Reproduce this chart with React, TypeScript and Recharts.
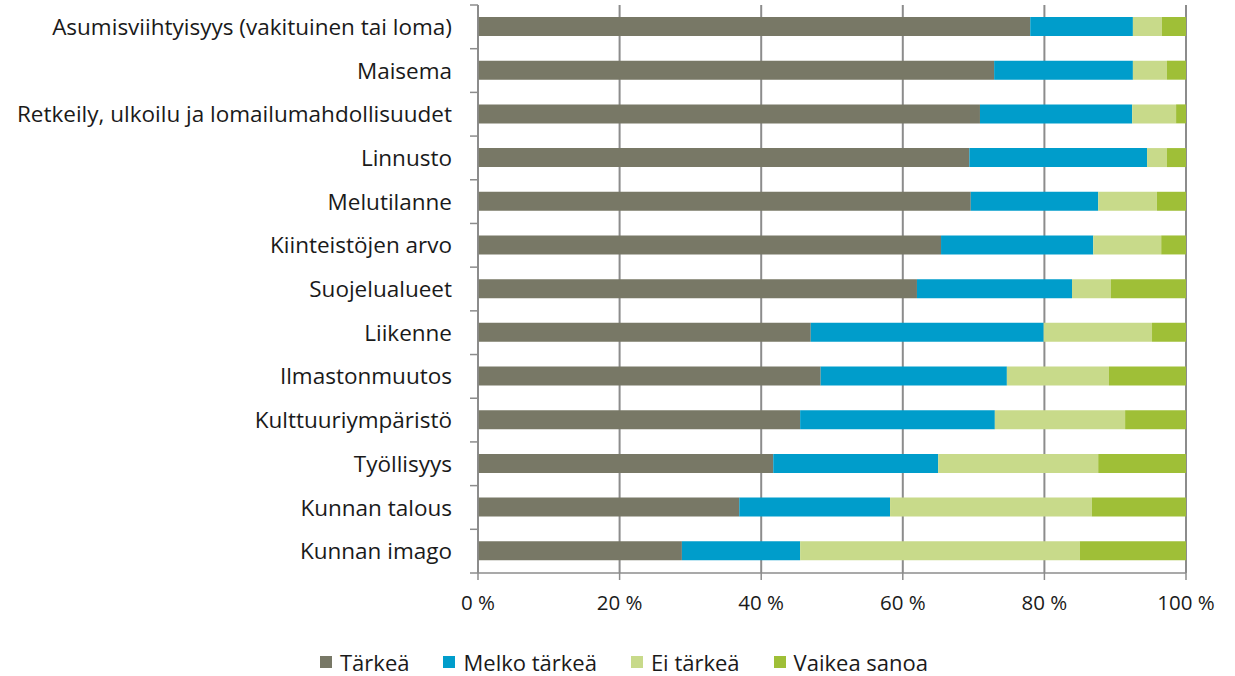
import React from "react";
import { BarChart, Bar, XAxis, YAxis, CartesianGrid, Legend } from "recharts";

const categories = [
  "Asumisviihtyisyys (vakituinen tai loma)",
  "Maisema",
  "Retkeily, ulkoilu ja lomailumahdollisuudet",
  "Linnusto",
  "Melutilanne",
  "Kiinteistöjen arvo",
  "Suojelualueet",
  "Liikenne",
  "Ilmastonmuutos",
  "Kulttuuriympäristö",
  "Työllisyys",
  "Kunnan talous",
  "Kunnan imago",
];

const tarkea = [78.0, 72.9, 70.9, 69.4, 69.6, 65.4, 62.0, 47.0, 48.4, 45.5, 41.7, 36.9, 28.8];
const melkoTarkea = [14.5, 19.6, 21.5, 25.1, 18.0, 21.5, 21.9, 32.9, 26.3, 27.5, 23.3, 21.3, 16.7];
const eiTarkea = [4.1, 4.8, 6.2, 2.8, 8.3, 9.6, 5.5, 15.3, 14.4, 18.4, 22.6, 28.5, 39.5];
const vaikeaSanoa = [3.4, 2.7, 1.4, 2.7, 4.1, 3.5, 10.6, 4.8, 10.9, 8.6, 12.4, 13.3, 15.0];

const xTicks = [0, 20, 40, 60, 80, 100];

const seriesNames = ["Tärkeä", "Melko tärkeä", "Ei tärkeä", "Vaikea sanoa"];
const seriesKeys = ["tarkea", "melko", "ei", "vaikea"];
const colors = ["#787866", "#009dcb", "#c8da8a", "#9fbf37"];

const data = categories.map((c, i) => ({
  name: c,
  tarkea: tarkea[i],
  melko: melkoTarkea[i],
  ei: eiTarkea[i],
  vaikea: vaikeaSanoa[i],
}));

const FONT = "'Open Sans', Lato, sans-serif";
const TEXT = "#1a1a1a";
const AXIS = "#8c8c8c";

const W = 1235;
const H = 676;
const M = { top: 5, right: 49, left: 0, bottom: 0 };
const Y_W = 478;
const X_H = 52;
const LEGEND_H = 51;
const plotH = H - M.top - M.bottom - X_H - LEGEND_H;
const band = plotH / categories.length;

const YTick = (props: any) => {
  const { y, payload, index } = props;
  const ax = Y_W;
  return (
    <g>
      <line x1={ax - 8} x2={ax} y1={y - band / 2} y2={y - band / 2} stroke={AXIS} strokeWidth={1.5} />
      {index === categories.length - 1 && (
        <line x1={ax - 8} x2={ax} y1={y + band / 2} y2={y + band / 2} stroke={AXIS} strokeWidth={1.5} />
      )}
      <text x={ax - 26} y={y} dy="0.36em" textAnchor="end" fill={TEXT} fontSize={22.5} fontFamily={FONT}>
        {payload.value}
      </text>
    </g>
  );
};

const LegendContent = () => (
  <div
    style={{
      display: "flex",
      justifyContent: "center",
      fontFamily: FONT,
      fontSize: 22,
      color: TEXT,
      paddingLeft: 62,
      paddingTop: 24,
      lineHeight: "26px",
    }}
  >
    {seriesNames.map((n, i) => (
      <div key={n} style={{ display: "flex", alignItems: "center", marginRight: i < 3 ? 34 : 0 }}>
        <span style={{ width: 12, height: 12, background: colors[i], display: "inline-block", marginRight: 8 }} />
        <span>{n}</span>
      </div>
    ))}
  </div>
);

export default function App() {
  return (
    <div style={{ position: "absolute", left: 0, top: 0, background: "#fff" }}>
      <BarChart width={W} height={H} data={data} layout="vertical" margin={M} barSize={19}>
        <CartesianGrid horizontal={false} vertical={true} stroke={AXIS} strokeWidth={2} />
        <XAxis
          type="number"
          domain={[0, 100]}
          ticks={xTicks}
          tickFormatter={(v: number) => `${v} %`}
          height={X_H}
          tickSize={7}
          tickMargin={15}
          stroke={AXIS}
          strokeWidth={1.5}
          tick={{ fill: TEXT, fontSize: 20.5, fontFamily: FONT }}
          interval={0}
        />
        <YAxis
          type="category"
          dataKey="name"
          width={Y_W}
          tickLine={false}
          stroke={AXIS}
          strokeWidth={1.5}
          tick={<YTick />}
          interval={0}
        />
        <Legend verticalAlign="bottom" height={LEGEND_H} content={<LegendContent />} />
        {seriesKeys.map((k, i) => (
          <Bar key={k} dataKey={k} name={seriesNames[i]} stackId="a" fill={colors[i]} isAnimationActive={false} />
        ))}
      </BarChart>
    </div>
  );
}
